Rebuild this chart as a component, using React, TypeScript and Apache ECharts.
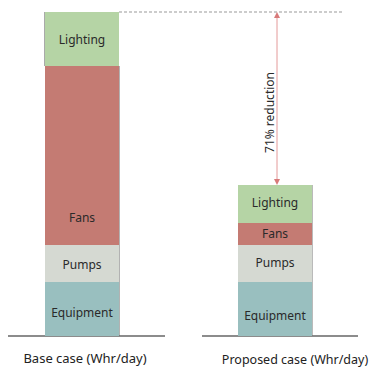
import React, { useEffect, useRef } from "react";
import * as echarts from "echarts";

const categories = ["Base case (Whr/day)", "Proposed case (Whr/day)"];
const segmentNames = ["Equipment", "Pumps", "Fans", "Lighting"];
const equipment = [54, 54];
const pumps = [37, 37];
const fans = [179, 22];
const lighting = [54, 38];
const reductionLabel = "71% reduction";

const colors: Record<string, string> = {
  Equipment: "#99bfbf",
  Pumps: "#d5d9d2",
  Fans: "#c47b73",
  Lighting: "#b5d4a5",
};

// per-bar label vertical offsets (fine placement of inside labels)
const labelOffsets: Record<string, number[]> = {
  Equipment: [3, 6],
  Pumps: [1, -1],
  Fans: [62, -1],
  Lighting: [0, -2],
};

const FONT = "'Noto Sans', sans-serif";

export default function App() {
  const ref = useRef<HTMLDivElement>(null);
  useEffect(() => {
    if (!ref.current) return;
    const chart = echarts.init(ref.current, null, { renderer: "svg" });
    const valuesMap: Record<string, number[]> = {
      Equipment: equipment,
      Pumps: pumps,
      Fans: fans,
      Lighting: lighting,
    };
    const totals = categories.map((_, i) =>
      segmentNames.reduce((s, n) => s + valuesMap[n][i], 0)
    );
    chart.setOption({
      animation: false,
      grid: { left: 82, right: 98, top: 12, bottom: 32 },
      xAxis: {
        type: "category",
        data: categories,
        boundaryGap: false,
        axisLine: { show: false },
        axisTick: { show: false },
        axisLabel: {
          interval: 0,
          hideOverlap: false,
          margin: 15,
          formatter: (v: string, i: number) => (i === 0 ? `{a|${v}}` : `{b|${v}}`),
          rich: {
            a: { fontSize: 13, color: "#222", fontFamily: FONT, padding: [0, 0, 0, 6] },
            b: { fontSize: 12.5, color: "#222", fontFamily: FONT, padding: [2, 0, 0, 40] },
          },
        },
      },
      yAxis: { type: "value", min: 0, max: totals[0], show: false, splitLine: { show: false } },
      series: segmentNames.map((name) => ({
        name,
        type: "bar",
        stack: "total",
        barWidth: 74,
        clip: false,
        itemStyle: { color: colors[name] },
        label: {
          show: true,
          position: "inside",
          formatter: name,
          fontSize: 12,
          color: "#2a2a2a",
          fontFamily: FONT,
        },
        data: valuesMap[name].map((v, i) => ({
          value: v,
          label: { offset: [0, labelOffsets[name][i]] },
        })),
      })),
    });

    const p0 = chart.convertToPixel({ gridIndex: 0 }, [0, totals[0]]) as number[];
    const p1 = chart.convertToPixel({ gridIndex: 0 }, [1, totals[1]]) as number[];
    const base = chart.convertToPixel({ gridIndex: 0 }, [0, 0]) as number[];
    const half = 37;
    const arrowX = p1[0] + 2;
    chart.setOption({
      graphic: [
        {
          type: "line",
          shape: { x1: 8, y1: base[1], x2: p0[0] + 83, y2: base[1] },
          style: { stroke: "#666", lineWidth: 1.5 },
        },
        {
          type: "line",
          shape: { x1: p1[0] - 73, y1: base[1], x2: p1[0] + 83, y2: base[1] },
          style: { stroke: "#666", lineWidth: 1.5 },
        },
        {
          type: "line",
          shape: { x1: p0[0] - half, y1: p0[1], x2: p0[0] - half, y2: p0[1] + 54 },
          style: { stroke: "#555", lineWidth: 1 },
        },
        {
          type: "line",
          shape: { x1: p0[0] + half, y1: p0[1] + 54, x2: p0[0] + half, y2: base[1] },
          style: { stroke: "#666", lineWidth: 1 },
        },
        {
          type: "line",
          shape: { x1: p1[0] + half, y1: p1[1], x2: p1[0] + half, y2: base[1] },
          style: { stroke: "#777", lineWidth: 1 },
        },
        {
          type: "line",
          shape: { x1: p0[0] + half, y1: p0[1], x2: 342, y2: p0[1] },
          style: { stroke: "#999", lineWidth: 1, lineDash: [3, 2] },
        },
        {
          type: "line",
          shape: { x1: arrowX, y1: p0[1] + 4, x2: arrowX, y2: p1[1] - 4 },
          style: { stroke: "#e49a9a", lineWidth: 1 },
        },
        {
          type: "polygon",
          shape: { points: [[arrowX, p0[1]], [arrowX - 3, p0[1] + 6], [arrowX + 3, p0[1] + 6]] },
          style: { fill: "#d87a7a" },
        },
        {
          type: "polygon",
          shape: { points: [[arrowX, p1[1]], [arrowX - 3, p1[1] - 6], [arrowX + 3, p1[1] - 6]] },
          style: { fill: "#d87a7a" },
        },
        {
          type: "text",
          x: arrowX - 8,
          y: (p0[1] + p1[1]) / 2 + 14,
          rotation: Math.PI / 2,
          style: {
            text: reductionLabel,
            fontSize: 12,
            fill: "#2a2a2a",
            fontFamily: FONT,
            align: "center",
            verticalAlign: "middle",
          },
        },
      ],
    });
    return () => chart.dispose();
  }, []);
  return <div ref={ref} style={{ width: 373, height: 368, position: "absolute", left: 0, top: 0 }} />;
}
